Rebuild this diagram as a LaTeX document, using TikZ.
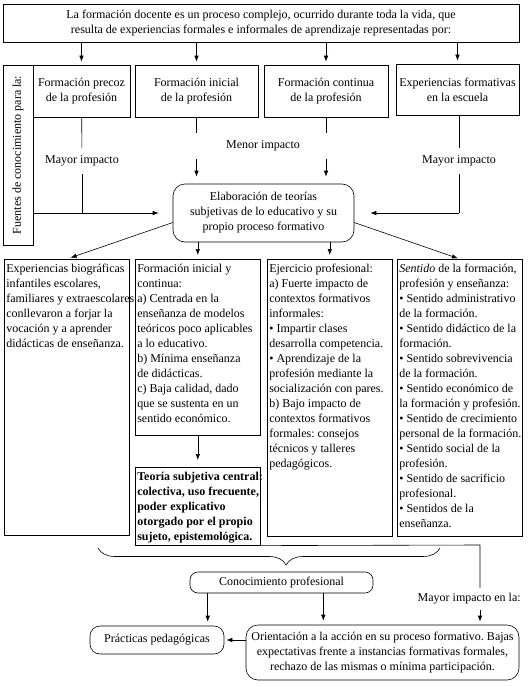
\documentclass[tikz,border=0pt]{standalone}
\usepackage{fontspec}
\setmainfont{Liberation Serif}
\usetikzlibrary{positioning}
\usetikzlibrary{arrows.meta}
\usetikzlibrary{decorations.pathreplacing}
\frenchspacing
\tikzstyle{block} = [rectangle, draw, align=center, inner sep=2pt]
\tikzstyle{rblock} = [block, rounded corners=10pt]
\tikzstyle{column} = [rectangle, draw, anchor=north west,
                      inner xsep=2pt, inner ysep=3pt]
\tikzstyle{impact} = [minimum height=25pt, inner sep=1pt]
\newcommand{\colbox}[5][]{\node [column, #1] (#2) at (#3)
  {\makebox[121pt][l]{\parbox[c][#4][t]{160pt}{\raggedright\strut #5}}};}

\begin{document}
\begin{tikzpicture}[x=1pt, y=-1pt, line width=0.6pt,
                    >={Latex[length=6pt,width=4.5pt]},
                    every node/.style={font=\fontsize{12}{15}\selectfont}]
  \useasboundingbox (0,0) rectangle (527,687);

  % sources
  \node [block, minimum width=516pt, minimum height=38pt] (forma) at (261,23)
    {La formación docente es un proceso complejo, ocurrido durante toda la vida, que\\
     resulta de experiencias formales e informales de aprendizaje representadas por:};
  \node [block, rotate=90, minimum width=180pt, minimum height=30pt] (fuentes) at (18,155)
    {Fuentes de conocimiento para la:};
  \node [block, minimum width=97pt, minimum height=52pt] (precoz) at (81.5,91)
    {Formación precoz\\ de la profesión};
  \node [block, minimum width=123pt, minimum height=52pt] (inicial) at (196.5,91)
    {Formación inicial\\ de la profesión};
  \node [block, minimum width=124pt, minimum height=52pt] (continua) at (326,91)
    {Formación continua\\ de la profesión};
  \node [block, minimum width=123pt, minimum height=51pt] (escuela) at (457.5,89.5)
    {Experiencias formativas\\ en la escuela};

  \foreach \src in {precoz, inicial, continua, escuela}
    \draw [->, shorten >=3pt] (forma.south -| \src) -- (\src.north);

  \node [rblock, rounded corners=12pt, minimum width=181pt, minimum height=58pt] (teorias)
    at (263.5,213) {Elaboración de teorías\\ subjetivas de lo educativo y su\\ propio proceso formativo};

  \node [impact] (mayorA) at (82,161) {Mayor impacto};
  \node [impact] (menor) at (263,146) {Menor impacto};
  \node [impact] (mayorB) at (459,161) {Mayor impacto};

  \draw (precoz) -- (mayorA);
  \draw (mayorA) -- (mayorA |- teorias);
  \draw [->, shorten >=14pt] (fuentes.south |- teorias) -- (teorias.west);
  \foreach \src in {inicial, continua} {
    \draw (\src) -- (\src |- menor.north);
    \draw [->, shorten >=7pt] (\src |- menor.south) -- (teorias.north -| \src);
  }
  \draw (escuela.south -| mayorB) -- (mayorB);
  \draw (mayorB.south) -- (mayorB |- teorias);
  \draw [->, shorten >=16pt] (mayorB |- teorias) -- (teorias.east);

  % subjective theories
  \colbox{biog}{4,259}{270pt}{Experiencias biográficas\\ infantiles escolares,\\
    familiares y extraescolares\\ conllevaron a forjar la\\ vocación y a aprender\\
    didácticas de enseñanza.}
  \colbox{inicont}{135,259}{170pt}{Formación inicial y\\ continua:\\ a) Centrada en la\\
    enseñanza de modelos\\ teóricos poco aplicables\\ a lo educativo.\\
    b) Mínima enseñanza\\ de didácticas.\\ c) Baja calidad, dado\\
    que se sustenta en un\\ sentido económico.}
  \colbox{ejerc}{267,259}{271pt}{Ejercicio profesional:\\ a) Fuerte impacto de\\
    contextos formativos\\ informales:\\ • Impartir clases\\ desarrolla competencia.\\
    • Aprendizaje de la\\ profesión mediante la\\ socialización con pares.\\
    b) Bajo impacto de\\ contextos formativos\\ formales: consejos\\
    técnicos y talleres\\ pedagógicos.}
  \colbox{sentido}{397,259}{271pt}{\textit{Sentido} de la formación,\\ profesión y enseñanza:\\
    • Sentido administrativo\\ de la formación.\\ • Sentido didáctico de la\\ formación.\\
    • Sentido sobrevivencia\\ de la formación.\\ • Sentido económico de\\
    la formación y profesión.\\ • Sentido de crecimiento\\ personal de la formación.\\
    • Sentido social de la\\ profesión.\\ • Sentido de sacrificio\\ profesional.\\
    • Sentidos de la\\ enseñanza.}
  \colbox{central}{135,467}{72pt}{\bfseries Teoría subjetiva central:\\
    colectiva, uso frecuente,\\ poder explicativo\\ otorgado por el propio\\
    sujeto, epistemológica.}

  \draw [->, shorten >=4pt] (teorias.186) -- (biog.north);
  \draw [->, shorten >=4pt] (teorias.south -| inicont) -- (inicont.north);
  \draw [->, shorten >=4pt] (teorias.south -| ejerc) -- (ejerc.north);
  \draw [->, shorten >=2pt] (teorias.354) -- (sentido.north);
  \draw [->, shorten >=7pt] (inicont) -- (central);

  % professional knowledge
  \draw [decorate, decoration={brace, amplitude=17pt, aspect=0.45}]
    (440,548) -- (98,548);
  \node [rblock, rounded corners=8pt, minimum width=183pt, minimum height=21pt] (conoc)
    at (281.5,582.5) {Conocimiento profesional};
  \node [rblock, minimum width=134pt, minimum height=28pt] (practicas) at (157,640)
    {Prácticas pedagógicas};
  \node [rblock, rounded corners=12pt, minimum width=273pt, minimum height=55pt] (orient)
    at (382.5,652.5) {Orientación a la acción en su proceso formativo. Bajas\\
    expectativas frente a instancias formativas formales,\\
    rechazo de las mismas o mínima participación.};
  \node [impact, anchor=east, minimum height=22pt] (mayorC) at (522,599)
    {Mayor impacto en la:};

  \coordinate (bend) at (480,545);
  \draw (central.south east) -- (bend) -- (bend |- mayorC.north);
  \draw [->, shorten >=3pt] (bend |- mayorC.south) -- (bend |- orient.north);
  \draw [->, shorten >=4pt] ([xshift=18pt]conoc.south west)
    -- ([xshift=18pt]conoc.south west |- practicas.north);
  \draw [->, shorten >=4pt] ([xshift=-50pt]conoc.south east)
    -- ([xshift=-50pt]conoc.south east |- orient.north);
  \draw [->, shorten >=2pt] (orient.west |- practicas) -- (practicas.east);

\end{tikzpicture}
\end{document}
